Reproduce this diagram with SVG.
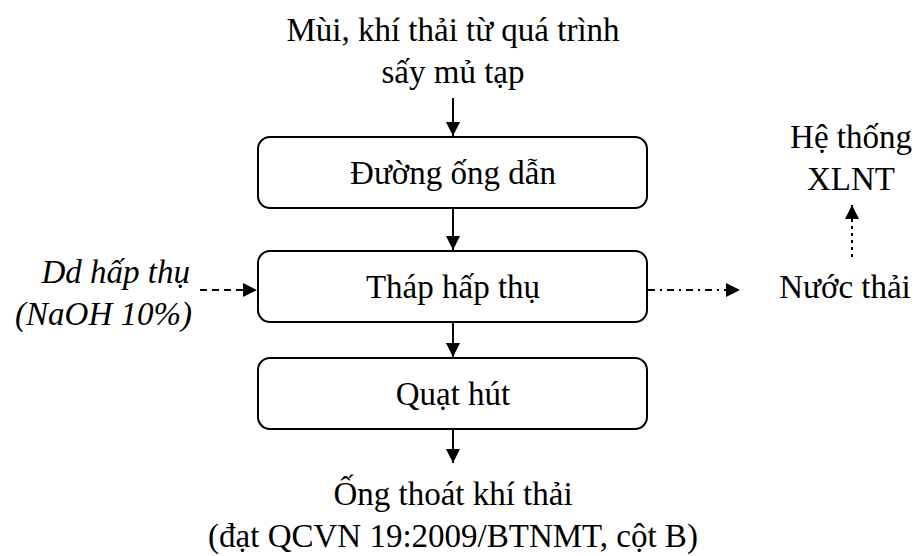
<svg xmlns="http://www.w3.org/2000/svg" width="919" height="556" viewBox="0 0 919 556">
  <defs>
    <marker id="ah" viewBox="0 0 10 10" refX="10" refY="5" markerWidth="14" markerHeight="14" markerUnits="userSpaceOnUse" orient="auto">
      <path d="M0,0 L10,5 L0,10 Z" fill="#000"/>
    </marker>
    <rect id="box" x="0" y="0" width="389" height="71" rx="12" fill="#fff" stroke="#000" stroke-width="2"/>
  </defs>

  <g font-family="Liberation Serif" font-size="33" fill="#000" text-anchor="middle">
    <g id="source">
      <text x="453" y="41">Mùi, khí thải từ quá trình</text>
      <text x="453" y="83">sấy mủ tạp</text>
    </g>

    <g id="duong-ong">
      <use href="#box" x="258" y="137"/>
      <text x="453" y="184">Đường ống dẫn</text>
    </g>

    <g id="thap-hap-thu">
      <use href="#box" x="258" y="251"/>
      <text x="453" y="298">Tháp hấp thụ</text>
    </g>

    <g id="quat-hut">
      <use href="#box" x="258" y="358"/>
      <text x="453" y="405">Quạt hút</text>
    </g>

    <g id="dung-dich" font-style="italic" text-anchor="end">
      <text x="190" y="283">Dd hấp thụ</text>
      <text x="192" y="325">(NaOH 10%)</text>
    </g>

    <g id="nuoc-thai">
      <text x="845" y="298">Nước thải</text>
    </g>

    <g id="xlnt">
      <text x="851" y="148">Hệ thống</text>
      <text x="851" y="190">XLNT</text>
    </g>

    <g id="ong-thoat">
      <text x="453" y="505">Ống thoát khí thải</text>
      <text x="453" y="547">(đạt QCVN 19:2009/BTNMT, cột B)</text>
    </g>
  </g>

  <g id="connectors" stroke="#000" stroke-width="2" fill="none">
    <line x1="453" y1="98" x2="453" y2="136" marker-end="url(#ah)"/>
    <line x1="453" y1="208" x2="453" y2="250" marker-end="url(#ah)"/>
    <line x1="453" y1="322" x2="453" y2="357" marker-end="url(#ah)"/>
    <line x1="453" y1="429" x2="453" y2="463" marker-end="url(#ah)"/>
    <line x1="200" y1="290" x2="257" y2="290" stroke-dasharray="7,5" marker-end="url(#ah)"/>
    <line x1="648" y1="290" x2="740" y2="290" stroke-dasharray="7,5,2,5" marker-end="url(#ah)"/>
    <line x1="852" y1="257" x2="852" y2="205" stroke-dasharray="3,4" marker-end="url(#ah)"/>
  </g>
</svg>
